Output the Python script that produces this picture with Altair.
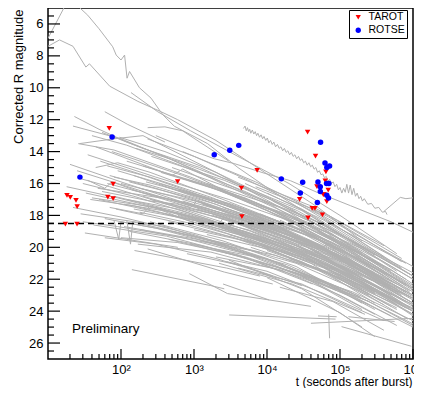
import altair as alt
import pandas as pd

# ---------------- point data (t in s, corrected R mag) ----------------
tarot_t = [17.3, 25, 18.2, 20.2, 24.2, 25.1, 66, 78, 69, 78, 597, 7330, 4470, 4530,
           36000, 46200, 64100, 62800, 48300, 69000, 60300, 28000, 66000, 41700, 45400,
           36500, 57500, 59000]
tarot_m = [18.55, 18.55, 16.75, 16.87, 17.06, 17.45, 16.85, 16.95, 12.55, 16.04, 15.88,
           15.17, 16.29, 18.08, 12.78, 14.28, 15.27, 15.83, 16.19, 16.42, 16.69, 17.0,
           17.14, 17.56, 17.56, 18.16, 17.97, 16.7]
rotse_t = [75.6, 27.4, 1893, 3090, 4100, 15700, 54200, 62300, 72000, 66000, 30800, 49900,
           65400, 70500, 53700, 53700, 28600, 66000, 69600, 49000]
rotse_m = [13.09, 15.6, 14.2, 13.92, 13.61, 15.71, 13.41, 14.71, 14.9, 15.0, 15.92, 15.9,
           16.0, 16.0, 16.21, 16.5, 16.6, 16.73, 16.91, 17.19]

# ---------------- light curves [t, mag] ----------------
curve_a = [[10, 6.9], [16.5, 5.0], [21, 4.3], [27.4, 5.0], [35, 5.45], [50, 6.3], [77, 7.43],
           [86, 7.95], [100, 8.26], [112, 7.95], [121, 9.4], [131, 8.98], [179, 10.0],
           [258, 10.65], [372, 11.68], [538, 12.41], [1535, 13.5], [4000, 15.0],
           [12000, 16.5], [50000, 18.3], [200000, 20.0], [1000000, 21.8]]
curve_b = [[10, 7.4], [14.4, 7.0], [22, 7.4], [33, 8.7], [37, 8.5], [70, 9.9], [170, 10.85],
           [353, 11.5], [597, 12.0], [2000, 13.3], [10000, 15.4], [50000, 17.5], [200000, 19.6]]
curve_e = [[300, 13.0], [900, 13.9], [1893, 14.45], [3550, 14.75], [9120, 15.35],
           [21100, 15.83], [48900, 16.56], [139000, 17.39], [235000, 17.81], [500000, 18.4],
           [1000000, 19.05]]
curve_c = [[137, 10.3], [318, 11.5], [900, 12.7], [4000, 14.3], [20000, 16.0], [100000, 18.0],
           [600000, 20.4]]
curve_d = [[4760, 12.55], [5000, 12.4], [5200, 12.7], [5400, 12.5], [5600, 12.75], [5800, 12.6],
           [6000, 12.85], [6300, 12.65], [6600, 12.9], [6900, 12.75], [7200, 13.0], [7500, 12.85],
           [7900, 13.1], [8300, 12.95], [8700, 13.2], [9100, 13.05], [9600, 13.3], [10100, 13.15],
           [10600, 13.45], [11200, 13.3], [11800, 13.55], [12400, 13.4], [13100, 13.7],
           [13900, 13.55], [14700, 13.8], [15500, 13.7], [16400, 13.95], [17300, 13.8],
           [18300, 14.05], [19300, 13.95], [20400, 14.2], [21600, 14.05], [22800, 14.3],
           [24100, 14.2], [25500, 14.45], [27000, 14.3], [28500, 14.55], [30100, 14.45],
           [31800, 14.7], [33600, 14.6], [35500, 14.85], [37500, 14.7], [39600, 14.95],
           [41800, 14.85], [44200, 15.1], [46700, 15.0], [49300, 15.3], [52100, 15.2],
           [55000, 15.45], [58100, 15.4], [61400, 15.65], [64800, 15.55], [68500, 15.85],
           [72300, 15.75], [76400, 16.0], [80700, 15.9], [85200, 16.2], [90000, 16.05],
           [95100, 16.4], [100000, 16.25], [106000, 16.6], [112000, 16.3], [118000, 16.55],
           [124000, 16.05], [131000, 16.6], [138000, 16.1], [146000, 16.7], [154000, 16.3],
           [163000, 16.8], [172000, 16.6], [182000, 16.95], [192000, 16.8], [203000, 17.1],
           [215000, 16.95], [240000, 17.3], [270000, 17.25], [300000, 17.55], [340000, 17.5],
           [380000, 17.8], [420000, 17.75], [441000, 17.95]]
curve_f = [[400000, 17.75], [670000, 16.87], [800000, 16.95], [1000000, 16.9]]

bundle = [
    [[60, 11.5], [124, 12.3], [400, 13.4]],
    [[23, 11.8], [50, 12.6], [120, 13.4], [400, 14.3], [3000, 16.2], [30000, 18.3], [300000, 21.0]],
    [[22, 12.4], [100, 13.2], [1000, 15.1], [10000, 17.2], [100000, 19.8], [1000000, 22.6]],
    [[27, 13.5], [80, 13.2], [200, 13.0], [2000, 15.3], [20000, 17.8], [400000, 21.5]],
    [[232, 12.5], [400, 12.45], [700, 12.7], [3000, 14.6]],
    [[20, 14.8], [100, 15.9], [1000, 17.4], [10000, 18.9], [100000, 20.6], [600000, 22.3]],
    [[25, 15.2], [200, 16.5], [2000, 17.9], [30000, 19.8], [300000, 22.4]],
    [[30, 16.0], [150, 16.8], [1500, 18.2], [20000, 20.0], [200000, 22.6]],
    [[18, 16.2], [90, 16.9], [800, 18.0], [8000, 19.6], [90000, 21.5], [1000000, 24.0]],
    [[35, 14.2], [300, 15.6], [3000, 17.0], [30000, 18.6], [400000, 21.2]],
    [[40, 13.0], [120, 13.6], [600, 14.8], [5000, 16.5], [50000, 18.6], [500000, 21.5]],
    [[28, 15.7], [70, 16.2], [500, 17.4], [6000, 19.0], [60000, 20.9], [1000000, 23.6]],
    [[50, 17.0], [400, 17.9], [4000, 19.2], [40000, 21.0], [300000, 23.5]],
    [[22, 17.5], [100, 18.1], [1000, 19.2], [10000, 20.7], [150000, 22.9]],
    [[60, 18.2], [300, 18.8], [3000, 20.0], [30000, 21.8], [200000, 23.9]],
    [[45, 15.0], [90, 14.7], [250, 15.3], [2500, 17.0], [25000, 18.8], [250000, 21.2]],
    [[75, 14.0], [700, 15.5], [7000, 17.2], [70000, 19.4], [700000, 22.4]],
    [[33, 16.6], [330, 17.6], [3300, 18.9], [33000, 20.4], [330000, 22.7]],
    [[65, 16.0], [650, 17.2], [6500, 18.5], [65000, 20.1], [650000, 22.9]],
    [[85, 17.6], [850, 18.6], [8500, 19.9], [85000, 21.8], [850000, 24.5]],
    [[42, 18.6], [420, 19.3], [4200, 20.5], [42000, 22.3]],
    [[55, 12.8], [200, 13.8], [1200, 15.0], [10000, 16.9], [100000, 19.3], [1000000, 22.0]],
    [[95, 13.1], [400, 14.0], [2000, 15.3], [20000, 17.5], [200000, 20.4]],
    [[38, 17.0], [150, 17.4], [1800, 18.6], [18000, 20.2], [180000, 22.2], [1000000, 24.0]],
    [[70, 15.5], [300, 16.3], [4000, 17.9], [40000, 19.6], [400000, 22.0]],
    [[26, 13.5], [80, 13.9], [900, 15.6], [9000, 17.4], [90000, 19.9], [900000, 22.8]],
    [[48, 16.3], [480, 17.0], [4800, 18.2], [48000, 19.9], [480000, 22.4]],
    [[110, 18.7], [1100, 19.5], [11000, 20.8], [110000, 22.6], [1000000, 24.8]],
    [[32, 19.1], [120, 19.5], [600, 20.0]],
    [[80, 16.8], [800, 17.9], [8000, 19.3], [80000, 21.0], [800000, 23.8]],
    [[80, 18.3], [93, 19.5], [100, 18.4], [400, 18.9], [3000, 19.9]],
    [[120, 18.3], [135, 19.8], [145, 18.4], [1000, 19.3], [8000, 20.3]],
    [[150, 15.5], [1500, 17.1], [15000, 18.8], [150000, 20.9], [1000000, 23.0]],
    [[200, 16.8], [2000, 18.1], [20000, 19.6], [200000, 21.8]],
    [[300, 17.5], [3000, 18.8], [30000, 20.5], [300000, 22.9]],
    [[120, 14.6], [1200, 16.0], [12000, 17.7], [120000, 20.0], [1000000, 22.7]],
    [[250, 18.4], [2500, 19.6], [25000, 21.2], [200000, 23.5]],
    [[180, 17.8], [900, 18.5], [9000, 19.8], [90000, 21.4], [900000, 23.8]],
    [[400, 16.2], [4000, 17.6], [40000, 19.3], [400000, 21.8]],
    [[130, 19.0], [1300, 19.9], [13000, 21.2], [130000, 23.0]],
    [[500, 15.0], [5000, 16.6], [50000, 18.4], [500000, 21.0]],
    [[160, 13.8], [600, 14.6], [3000, 15.8], [30000, 17.7], [300000, 20.5]],
    [[220, 15.9], [700, 16.5], [7000, 18.0], [70000, 19.8], [700000, 22.2]],
    [[350, 17.2], [3500, 18.4], [35000, 20.0], [350000, 22.3]],
    [[600, 18.0], [6000, 19.2], [60000, 20.9], [600000, 23.3]],
    [[140, 16.4], [1400, 17.5], [14000, 19.1], [140000, 21.3], [1000000, 23.5]],
    [[800, 16.6], [8000, 18.0], [80000, 19.7], [800000, 22.4]],
    [[450, 19.5], [4500, 20.6], [45000, 22.2], [300000, 24.2]],
    [[260, 14.3], [2600, 15.8], [26000, 17.7], [260000, 20.3]],
    [[900, 17.0], [9000, 18.6], [90000, 20.4], [900000, 23.1]],
    [[190, 18.9], [1900, 19.8], [19000, 21.1], [190000, 23.1]],
    [[700, 14.0], [7000, 15.9], [70000, 18.1], [700000, 20.9]],
    [[110, 17.3], [500, 17.8], [5000, 19.0], [50000, 20.6], [500000, 23.0]],
    [[330, 16.0], [3300, 17.3], [33000, 19.0], [330000, 21.4]],
    [[550, 17.8], [5500, 18.9], [55000, 20.6], [550000, 23.0]],
    [[230, 13.2], [1000, 14.3], [5000, 15.7], [50000, 17.9], [400000, 20.6]],
    [[170, 19.8], [1700, 20.3], [17000, 21.5]],
    [[153, 20.2], [2800, 21.3], [8000, 21.8]],
    [[232, 20.1], [2600, 21.55], [12000, 22.3]],
    [[141, 21.4], [1700, 22.4], [2600, 22.6]],
    [[2500, 22.3], [10700, 23.3]],
    [[863, 21.65], [2880, 22.9], [40000, 23.7]],
    [[3030, 24.24], [87000, 24.5]],
    [[40000, 24.76], [1000000, 24.45]],
    [[70000, 24.2], [72000, 25.7]],
    [[50000, 24.3], [90000, 24.35]],
    [[105000, 24.97], [950000, 26.2]],
    [[130000, 24.35], [560000, 24.65]],
    [[10000, 21.9], [100000, 24.1], [300000, 25.6]],
    [[3000, 20.8], [30000, 22.6], [200000, 25.0]],
    [[1200, 18.5], [12000, 19.8], [120000, 21.6], [1000000, 24.0]],
    [[2000, 17.0], [20000, 18.6], [200000, 20.8]],
    [[3000, 19.2], [30000, 20.6], [300000, 22.8]],
    [[1500, 16.0], [15000, 17.5], [150000, 19.6], [1000000, 21.8]],
    [[5000, 18.3], [50000, 19.8], [500000, 22.3]],
    [[8000, 17.4], [80000, 19.2], [800000, 22.0]],
    [[2500, 20.3], [25000, 21.6], [250000, 23.6]],
    [[4000, 15.6], [40000, 17.4], [400000, 19.9]],
    [[1800, 18.0], [18000, 19.3], [180000, 21.2], [1000000, 23.1]],
    [[6000, 20.0], [60000, 21.5], [600000, 23.8]],
    [[1100, 17.6], [11000, 19.0], [110000, 20.9], [1000000, 23.2]],
    [[3500, 16.8], [35000, 18.4], [350000, 20.8]],
    [[9000, 18.9], [90000, 20.4], [900000, 22.7]],
    [[2200, 21.0], [22000, 22.3], [220000, 24.2]],
    [[7000, 16.2], [70000, 18.0], [700000, 20.7]],
    [[1300, 19.6], [13000, 20.5], [130000, 22.1], [1000000, 24.2]],
    [[4500, 17.9], [45000, 19.4], [450000, 21.7]],
    [[2800, 18.7], [28000, 20.1], [280000, 22.1]],
    [[12000, 19.4], [120000, 21.0], [1000000, 23.3]],
    [[20000, 18.0], [200000, 20.1], [1000000, 22.0]],
    [[30000, 20.4], [300000, 22.4], [1000000, 23.9]],
    [[15000, 21.3], [150000, 22.8], [1000000, 24.6]],
    [[50000, 19.0], [500000, 21.4], [1000000, 22.3]],
    [[40000, 17.6], [400000, 20.2], [1000000, 21.2]],
    [[25000, 19.9], [250000, 21.9], [1000000, 23.5]],
    [[60000, 21.5], [600000, 23.6]],
    [[10000, 20.2], [100000, 21.8], [1000000, 23.8]],
    [[80000, 18.6], [800000, 21.0]],
    [[35, 15.8], [60, 16.3], [75, 15.9], [200, 16.6], [900, 17.5], [1100, 17.1], [5000, 18.3], [40000, 20.0], [150000, 21.7]],
    [[45, 13.7], [150, 14.6], [500, 15.5], [700, 15.1], [3000, 16.6], [20000, 18.3], [100000, 20.4], [700000, 23.0]],
    [[28, 17.9], [110, 18.3], [400, 18.7], [2000, 19.7], [15000, 21.0], [90000, 22.7]],
    [[90, 15.2], [350, 16.0], [1500, 16.9], [8000, 18.2], [60000, 20.0], [500000, 22.6]],
    [[52, 14.6], [180, 15.4], [1000, 16.6], [6000, 18.0], [50000, 19.9], [1000000, 23.2]],
    [[70, 17.5], [200, 17.9], [250, 17.4], [800, 18.3], [5000, 19.5], [40000, 21.2], [400000, 23.6]],
    [[40, 16.9], [300, 17.5], [2500, 18.6], [20000, 20.2], [300000, 22.8]],
    [[100, 16.0], [500, 16.8], [4000, 18.0], [30000, 19.6], [250000, 21.9], [1000000, 23.2]],
    [[65, 14.9], [250, 15.6], [1800, 16.9], [12000, 18.5], [80000, 20.4], [600000, 22.9]],
    [[30, 18.4], [90, 18.7], [700, 19.4], [6000, 20.5], [50000, 22.0], [300000, 23.9]],
    [[120, 17.0], [600, 17.6], [2200, 18.5], [2600, 18.1], [15000, 19.6], [150000, 21.6], [1000000, 23.7]],
    [[80, 15.6], [250, 16.1], [2000, 17.3], [20000, 19.1], [200000, 21.3]],
    [[150, 17.6], [1000, 18.3], [9000, 19.5], [70000, 21.1], [700000, 23.5]],
    [[200, 14.9], [1500, 16.1], [10000, 17.7], [70000, 19.6], [500000, 22.1]],
    [[55, 16.5], [250, 17.1], [600, 17.3], [3000, 18.2], [25000, 19.9], [250000, 22.2]],
    [[400, 17.9], [3000, 18.8], [3500, 18.4], [20000, 19.9], [200000, 22.3], [1000000, 24.2]],
    [[600, 16.4], [4000, 17.5], [30000, 19.1], [300000, 21.6]],
    [[1000, 18.9], [8000, 19.8], [60000, 21.3], [500000, 23.7]],
    [[500, 19.0], [3000, 19.8], [25000, 21.0], [250000, 23.0]],
    [[2500, 17.5], [15000, 18.7], [100000, 20.4], [800000, 22.8]],
    [[1500, 19.2], [10000, 20.1], [70000, 21.6], [600000, 23.9]],
    [[700, 17.1], [5000, 18.3], [6000, 17.9], [40000, 19.7], [300000, 22.0]],
    [[3000, 18.0], [30000, 19.5], [120000, 20.9], [1000000, 23.5]],
    [[5000, 19.6], [40000, 20.8], [300000, 22.9]],
    [[8000, 17.9], [60000, 19.5], [400000, 21.8]],
    [[2000, 20.6], [15000, 21.4], [100000, 23.0], [600000, 24.9]],
    [[900, 19.8], [9000, 20.7], [80000, 22.4], [500000, 24.3]],
    [[6000, 18.6], [50000, 20.1], [70000, 19.8], [500000, 22.5]],
    [[12000, 17.1], [80000, 18.9], [600000, 21.5]],
    [[4000, 21.3], [30000, 22.3], [200000, 24.1]],
    [[15000, 18.3], [120000, 20.1], [1000000, 22.6]],
    [[25000, 18.8], [180000, 20.7], [1000000, 22.8]],
    [[35000, 19.5], [250000, 21.5], [1000000, 23.0]],
    [[20000, 20.7], [150000, 22.2], [1000000, 24.0]],
    [[45000, 20.3], [350000, 22.5], [1000000, 23.6]],
    [[70000, 19.2], [500000, 21.6], [1000000, 22.5]],
    [[9000, 19.9], [80000, 21.4], [700000, 23.5]],
    [[18000, 19.1], [150000, 21.0], [1000000, 23.0]],
    [[30000, 21.8], [250000, 23.4], [1000000, 24.9]],
    [[100000, 19.6], [700000, 22.1], [1000000, 22.6]],
    [[3500, 19.0], [25000, 20.3], [200000, 22.2], [1000000, 24.3]],
    [[1300, 17.3], [9000, 18.5], [70000, 20.2], [600000, 22.6]],
    [[2200, 16.4], [18000, 17.9], [130000, 19.9], [1000000, 22.4]],
    [[600, 15.6], [5000, 16.9], [40000, 18.7], [350000, 21.1]],
    [[350, 15.3], [2500, 16.5], [20000, 18.3], [180000, 20.8]],
    [[130, 15.9], [900, 16.9], [7000, 18.3], [60000, 20.2], [600000, 22.8]],
    [[250, 17.0], [1800, 17.9], [15000, 19.4], [130000, 21.4], [1000000, 23.9]],
    [[60, 19.4], [300, 19.8], [2000, 20.7], [12000, 21.8]],
    [[180, 16.3], [1300, 17.2], [12000, 18.8], [100000, 20.8], [800000, 23.4]],
    [[450, 18.4], [3500, 19.4], [30000, 20.9], [250000, 22.9]],
    [[2800, 20.9], [10000, 21.5], [60000, 22.9], [400000, 24.6]],
    [[50000, 22.0], [300000, 23.8], [1000000, 25.0]],
    [[800, 20.4], [5000, 21.2], [30000, 22.4]],
    [[15000, 22.5], [80000, 23.4], [400000, 25.2]],
    [[5000, 16.0], [30000, 17.6], [200000, 19.9], [1000000, 21.6]],
    [[10000, 16.6], [60000, 18.3], [350000, 20.5], [1000000, 21.8]],
    [[25000, 17.2], [150000, 19.3], [700000, 21.3]],
    [[100, 19.4], [600, 19.7], [5000, 20.6], [40000, 21.9], [250000, 23.4]],
]

all_curves = [curve_a, curve_b, curve_e, curve_c, curve_d, curve_f] + bundle

rows = []
for cid, crv in enumerate(all_curves):
    for k, (tt, mm) in enumerate(crv):
        rows.append({"id": cid, "o": k, "t": tt, "mag": mm})
lines_df = pd.DataFrame(rows)

pts_df = pd.DataFrame(
    {"inst": ["TAROT"] * len(tarot_t) + ["ROTSE"] * len(rotse_t),
     "t": tarot_t + rotse_t,
     "mag": tarot_m + rotse_m})

rule_df = pd.DataFrame({"t0": [10], "t1": [1000000], "mag": [18.5]})
text_df = pd.DataFrame({"t": [21.3], "mag": [25.38], "label": ["Preliminary"]})

FONT = "Liberation Sans"
W, H = 365, 351

major_x = [100, 1000, 10000, 100000, 1000000]
minor_x = [m * d for d in [10, 100, 1000, 10000, 100000] for m in range(2, 10)]
major_y = list(range(6, 27, 2))
minor_y = [v / 2 for v in range(11, 54) if v % 4 != 0]

xscale = alt.Scale(type="log", domain=[10, 1000000], nice=False)
yscale = alt.Scale(domain=[5, 27], reverse=True, nice=False, zero=False)

label_expr = ("datum.value == 100 ? '10²' : datum.value == 1000 ? '10³' : "
              "datum.value == 10000 ? '10⁴' : datum.value == 100000 ? '10⁵' : '10⁶'")

x_label_axis = alt.Axis(orient="bottom", values=major_x, labelExpr=label_expr, ticks=False,
                        domain=False, grid=False, labelFont=FONT, labelFontSize=13,
                        labelColor="black", labelPadding=4, labelFlush=False,
                        title="t (seconds after burst)", titleFont=FONT, titleFontSize=12,
                        titleFontWeight="normal", titleColor="black", titleAnchor="end",
                        titleAlign="right", titleBaseline="alphabetic", titleY=26.5, titleX=W - 1)
y_label_axis = alt.Axis(orient="left", values=major_y, ticks=False, domain=False, grid=False,
                        labelFont=FONT, labelFontSize=13, labelColor="black", labelPadding=5,
                        labelFlush=False, title="Corrected R magnitude", titleFont=FONT,
                        titleFontSize=13, titleFontWeight="normal", titleColor="black",
                        titleAngle=270, titleAlign="right", titleBaseline="middle",
                        titleX=-30, titleY=1)

lines = alt.Chart(lines_df).mark_line(color="#b0b0b0", strokeWidth=1, clip=True).encode(
    x=alt.X("t:Q", scale=xscale, axis=x_label_axis),
    y=alt.Y("mag:Q", scale=yscale, axis=y_label_axis),
    detail="id:N",
    order="o:Q",
)

# inward axis ticks (ROOT style), positioned by the shared scales
def x_ticks(vals, length):
    return alt.Chart(pd.DataFrame({"v": vals})).mark_rule(color="black", strokeWidth=1.2).encode(
        x=alt.X("v:Q", scale=xscale, axis=None),
        y=alt.value(H), y2=alt.value(H - length))

def y_ticks(vals, length):
    return alt.Chart(pd.DataFrame({"v": vals})).mark_rule(color="black", strokeWidth=1.2).encode(
        y=alt.Y("v:Q", scale=yscale, axis=None),
        x=alt.value(0), x2=alt.value(length))

rule = alt.Chart(rule_df).mark_rule(color="black", strokeWidth=1.5, strokeDash=[6, 4]).encode(
    x=alt.X("t0:Q", scale=xscale, axis=None),
    x2="t1:Q",
    y=alt.Y("mag:Q", scale=yscale, axis=None),
)

legend_label_expr = "datum.label + '      '"
points = alt.Chart(pts_df).mark_point(filled=True, size=30, opacity=1, clip=True).encode(
    x=alt.X("t:Q", scale=xscale, axis=None),
    y=alt.Y("mag:Q", scale=yscale, axis=None),
    color=alt.Color("inst:N", scale=alt.Scale(domain=["TAROT", "ROTSE"], range=["#ff0000", "#0000ff"]),
                    legend=alt.Legend(title=None, labelExpr=legend_label_expr)),
    shape=alt.Shape("inst:N", scale=alt.Scale(domain=["TAROT", "ROTSE"], range=["triangle-down", "circle"]),
                    legend=alt.Legend(title=None, labelExpr=legend_label_expr)),
)

text = alt.Chart(text_df).mark_text(align="left", baseline="alphabetic", font=FONT, fontSize=13.5,
                                    color="black").encode(
    x=alt.X("t:Q", scale=xscale, axis=None),
    y=alt.Y("mag:Q", scale=yscale, axis=None),
    text="label:N",
)

chart = alt.layer(
    lines, rule,
    x_ticks(major_x, 10), x_ticks(minor_x, 5), y_ticks(major_y, 12), y_ticks(minor_y, 6),
    points, text
).resolve_axis(
    x="independent", y="independent"
).properties(
    width=W, height=H,
    autosize=alt.AutoSizeParams(type="none"),
    padding={"left": 40, "top": 0, "right": 1, "bottom": 29},
).configure_view(
    stroke="black", strokeWidth=1.5
).configure_legend(
    orient="none", legendX=301, legendY=2, strokeColor="black", fillColor="white",
    padding=2, labelFont=FONT, labelFontSize=10.5, labelColor="black", symbolSize=28,
    rowPadding=2, labelOffset=5, symbolOffset=2, cornerRadius=0, symbolStrokeWidth=0
)

chart.save("out.html", embed_options={"renderer": "svg", "actions": False})
